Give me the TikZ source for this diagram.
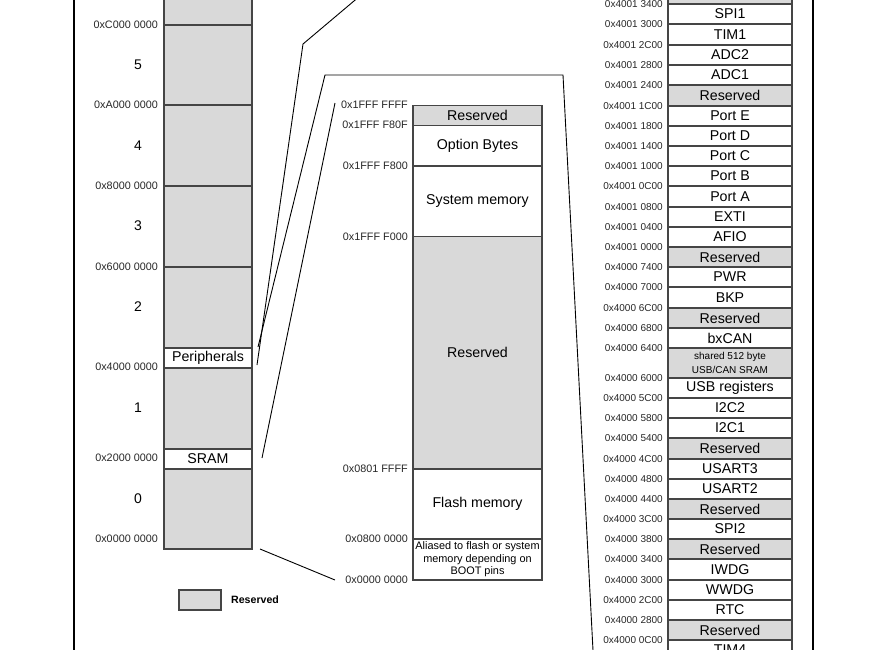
\documentclass[tikz,border=0pt]{standalone}
\usepackage{fontspec}
\setmainfont{Liberation Sans}
\definecolor{resgrey}{HTML}{D9D9D9}
\definecolor{edge}{HTML}{454545}
\tikzset{
  mapbox/.style={draw=edge, line width=1.2pt, inner sep=0pt, align=center,
    font=\fontsize{14.2}{16}\selectfont},
  greybox/.style={mapbox, fill=resgrey},
  whitebox/.style={mapbox, fill=white},
  smalltxt/.style={font=\fontsize{10}{13.3}\selectfont},
  aliastxt/.style={font=\fontsize{10.9}{12.5}\selectfont},
  addrL/.style={font=\fontsize{10.8}{12}\selectfont, anchor=east, inner sep=0pt, text=black!85},
  addrR/.style={font=\fontsize{10}{12}\selectfont, anchor=east, inner sep=0pt, text=black!85},
  regnum/.style={font=\fontsize{14}{16}\selectfont, inner sep=0pt},
  link/.style={draw=black, line width=0.9pt},
  frameline/.style={draw=black, line width=1.2pt},
}
% row: name, x-centre, width, top, bottom, style, text
\newcommand{\maprow}[7]{%
  \pgfmathsetmacro{\rh}{#5-#4}%
  \pgfmathsetmacro{\rc}{(#4+#5)/2}%
  \node[#6, minimum width=#3pt, minimum height=\rh pt] (#1) at (#2,\rc) {#7};}
\begin{document}
\begin{tikzpicture}[x=1pt,y=-1pt]
\useasboundingbox (0,0) rectangle (873,649);

% page borders
\coordinate (bl1) at (74,-5); \coordinate (bl2) at (74,655);
\coordinate (br1) at (813,-5); \coordinate (br2) at (813,655);
\draw[frameline] (bl1) -- (bl2);
\draw[frameline] (br1) -- (br2);

% ---------- left column ----------
\maprow{seg6}{208}{88}{-20}{25}{greybox}{}
\maprow{seg5}{208}{88}{25}{105}{greybox}{}
\maprow{seg4}{208}{88}{105}{186}{greybox}{}
\maprow{seg3}{208}{88}{186}{267}{greybox}{}
\maprow{seg2}{208}{88}{267}{348}{greybox}{}
\maprow{periph}{208}{88}{348}{368}{whitebox}{Peripherals}
\maprow{seg1}{208}{88}{368}{449}{greybox}{}
\maprow{sram}{208}{88}{449}{469}{whitebox}{SRAM}
\maprow{seg0}{208}{88}{469}{549}{greybox}{}

\node[addrL] (la1) at (158,25) {0xC000 0000};
\node[addrL] (la2) at (158,105) {0xA000 0000};
\node[addrL] (la3) at (158,186) {0x8000 0000};
\node[addrL] (la4) at (158,267) {0x6000 0000};
\node[addrL] (la5) at (158,367) {0x4000 0000};
\node[addrL] (la6) at (158,458) {0x2000 0000};
\node[addrL] (la7) at (158,539) {0x0000 0000};

\node[regnum] (n5) at (138,65) {5};
\node[regnum] (n4) at (138,146) {4};
\node[regnum] (n3) at (138,226) {3};
\node[regnum] (n2) at (138,307) {2};
\node[regnum] (n1) at (138,408) {1};
\node[regnum] (n0) at (138,499) {0};

% legend
\node[greybox, minimum width=42pt, minimum height=20pt] (legend) at (200,600) {};
\node[font=\bfseries\fontsize{10.6}{12}\selectfont, anchor=west, inner sep=0pt] (legendtxt) at (231,600) {Reserved};

% ---------- middle column ----------
\maprow{mres1}{477.5}{129}{105.7}{125.7}{greybox}{Reserved}
\maprow{opt}{477.5}{129}{125.7}{166}{whitebox}{Option Bytes}
\maprow{sys}{477.5}{129}{166}{236.7}{whitebox}{System memory}
\maprow{mres2}{477.5}{129}{236.7}{469}{greybox}{Reserved}
\maprow{flash}{477.5}{129}{469}{539}{whitebox}{Flash memory}
\maprow{alias}{477.5}{129}{539}{580}{whitebox, aliastxt}{Aliased to flash or system\\memory depending on\\BOOT pins}

\node[addrL] (ma1) at (408,104.3) {0x1FFF FFFF};
\node[addrL] (ma2) at (408,125) {0x1FFF F80F};
\node[addrL] (ma3) at (408,165.7) {0x1FFF F800};
\node[addrL] (ma4) at (408,236.7) {0x1FFF F000};
\node[addrL] (ma5) at (408,468.3) {0x0801 FFFF};
\node[addrL] (ma6) at (408,539) {0x0800 0000};
\node[addrL] (ma7) at (408,579.3) {0x0000 0000};

% ---------- right column ----------
\maprow{r0}{730}{124}{-20}{4}{greybox}{}
\maprow{r1}{730}{124}{4}{24}{whitebox}{SPI1}
\maprow{r2}{730}{124}{24}{45}{whitebox}{TIM1}
\maprow{r3}{730}{124}{45}{65}{whitebox}{ADC2}
\maprow{r4}{730}{124}{65}{85}{whitebox}{ADC1}
\maprow{r5}{730}{124}{85}{106}{greybox}{Reserved}
\maprow{r6}{730}{124}{106}{126}{whitebox}{Port E}
\maprow{r7}{730}{124}{126}{146}{whitebox}{Port D}
\maprow{r8}{730}{124}{146}{166}{whitebox}{Port C}
\maprow{r9}{730}{124}{166}{186}{whitebox}{Port B}
\maprow{r10}{730}{124}{186}{207}{whitebox}{Port A}
\maprow{r11}{730}{124}{207}{227}{whitebox}{EXTI}
\maprow{r12}{730}{124}{227}{247}{whitebox}{AFIO}
\maprow{r13}{730}{124}{247}{267}{greybox}{Reserved}
\maprow{r14}{730}{124}{267}{287}{whitebox}{PWR}
\maprow{r15}{730}{124}{287}{308}{whitebox}{BKP}
\maprow{r16}{730}{124}{308}{328}{greybox}{Reserved}
\maprow{r17}{730}{124}{328}{348}{whitebox}{bxCAN}
\maprow{r18}{730}{124}{348}{378}{greybox, smalltxt}{shared 512 byte\\USB/CAN SRAM}
\maprow{r19}{730}{124}{378}{398}{whitebox}{USB registers}
\maprow{r20}{730}{124}{398}{418}{whitebox}{I2C2}
\maprow{r21}{730}{124}{418}{438}{whitebox}{I2C1}
\maprow{r22}{730}{124}{438}{459}{greybox}{Reserved}
\maprow{r23}{730}{124}{459}{479}{whitebox}{USART3}
\maprow{r24}{730}{124}{479}{499}{whitebox}{USART2}
\maprow{r25}{730}{124}{499}{519}{greybox}{Reserved}
\maprow{r26}{730}{124}{519}{539}{whitebox}{SPI2}
\maprow{r27}{730}{124}{539}{559}{greybox}{Reserved}
\maprow{r28}{730}{124}{559}{580}{whitebox}{IWDG}
\maprow{r29}{730}{124}{580}{600}{whitebox}{WWDG}
\maprow{r30}{730}{124}{600}{620}{whitebox}{RTC}
\maprow{r31}{730}{124}{620}{640}{greybox}{Reserved}
\maprow{r32}{730}{124}{640}{660}{whitebox}{TIM4}

\foreach \yy/\tt [count=\i] in {
  4/0x4001 3400, 24/0x4001 3000, 45/0x4001 2C00, 65/0x4001 2800,
  85/0x4001 2400, 106/0x4001 1C00, 126/0x4001 1800, 146/0x4001 1400,
  166/0x4001 1000, 186/0x4001 0C00, 207/0x4001 0800, 227/0x4001 0400,
  247/0x4001 0000, 267/0x4000 7400, 287/0x4000 7000, 308/0x4000 6C00,
  328/0x4000 6800, 348/0x4000 6400, 378/0x4000 6000, 398/0x4000 5C00,
  418/0x4000 5800, 438/0x4000 5400, 459/0x4000 4C00, 479/0x4000 4800,
  499/0x4000 4400, 519/0x4000 3C00, 539/0x4000 3800, 559/0x4000 3400,
  580/0x4000 3000, 600/0x4000 2C00, 620/0x4000 2800, 640/0x4000 0C00}
  { \node[addrR] (ra\i) at (663,\yy) {\tt}; }

% ---------- expansion lines ----------
\coordinate (pa) at (257,365);
\coordinate (pb) at (303,44);
\coordinate (pc) at (367,-10);
\draw[link] (pa) -- (pb) -- (pc);

\coordinate (fa) at (258,347);
\coordinate (fb) at (325,75);
\coordinate (fc) at (563,75);
\coordinate (fd) at (593.5,660);
\draw[link] (fa) -- (fb) -- (fc) -- (fd);

\coordinate (sa) at (335,103);
\coordinate (sb) at (262,458);
\draw[link] (sa) -- (sb);

\coordinate (za) at (260,549);
\coordinate (zb) at (335,580);
\draw[link] (za) -- (zb);
\end{tikzpicture}
\end{document}
